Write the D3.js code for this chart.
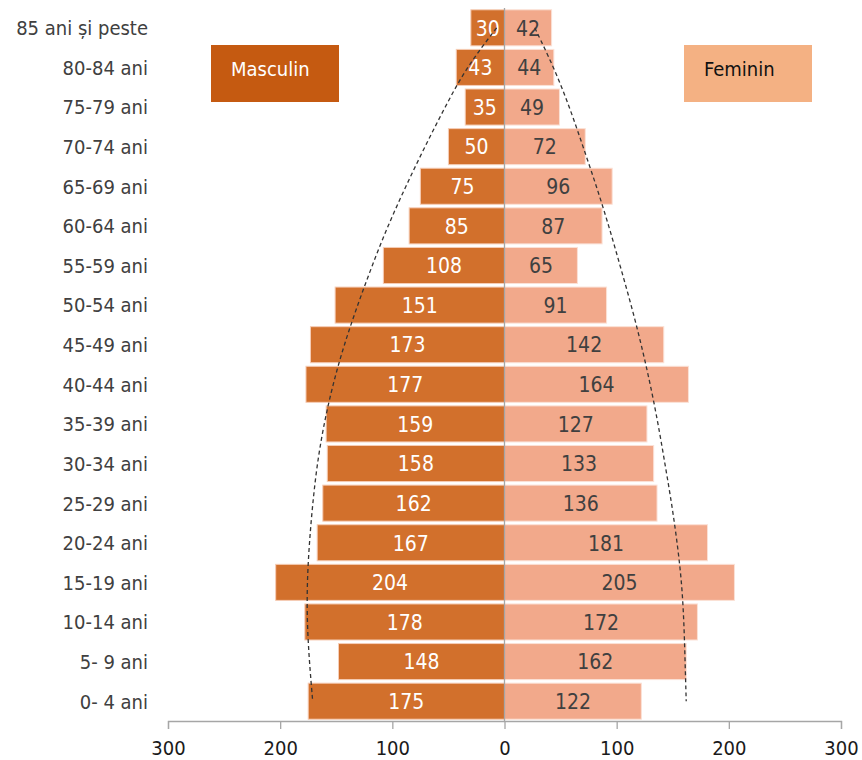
<!DOCTYPE html>
<html>
<head>
<meta charset="utf-8">
<script src="https://cdn.jsdelivr.net/npm/d3@7/dist/d3.min.js"></script>
<style>
  body { margin: 0; background: #fff; }
  text { font-family: "DejaVu Sans Condensed", "DejaVu Sans", sans-serif; font-stretch: condensed; }
</style>
</head>
<body>
<div id="chart"></div>
<script>
// Age groups, top to bottom
var ageGroups = ["85 ani și peste", "80-84 ani", "75-79 ani", "70-74 ani", "65-69 ani",
  "60-64 ani", "55-59 ani", "50-54 ani", "45-49 ani", "40-44 ani", "35-39 ani",
  "30-34 ani", "25-29 ani", "20-24 ani", "15-19 ani", "10-14 ani", "5- 9 ani", "0- 4 ani"];

var male   = [30, 43, 35, 50, 75, 85, 108, 151, 173, 177, 159, 158, 162, 167, 204, 178, 148, 175];
var female = [42, 44, 49, 72, 96, 87, 65, 91, 142, 164, 127, 133, 136, 181, 205, 172, 162, 122];

// dashed trend lines
var maleTrend   = [7, 34, 53, 71, 88, 104, 118, 131, 143, 153, 161, 167, 171, 174, 176, 176, 174, 171];
var femaleTrend = [27, 44, 58, 70, 82, 93, 103, 113, 122, 130, 137, 143, 149, 154, 158, 160, 161, 162];

var ticks = [-300, -200, -100, 0, 100, 200, 300];
var legendLabels = ["Masculin", "Feminin"];

var width = 862, height = 760;
var maleColor = "#d2702c", femaleColor = "#f2a98b";

var svg = d3.select("#chart").append("svg")
    .attr("width", width)
    .attr("height", height);

var x = d3.scaleLinear().domain([-300, 300]).range([168, 841]);
var y = d3.scaleBand().domain(ageGroups).range([8, 721]).paddingInner(0.09).paddingOuter(0.045);

// bars
svg.selectAll("rect.male")
    .data(male)
    .enter().append("rect")
    .attr("class", "male")
    .attr("x", function(d) { return x(-d); })
    .attr("y", function(d, i) { return y(ageGroups[i]); })
    .attr("width", function(d) { return x(0) - x(-d); })
    .attr("height", y.bandwidth())
    .style("fill", maleColor)
    .style("stroke", "#f6cdb6")
    .style("stroke-width", 1);

svg.selectAll("rect.female")
    .data(female)
    .enter().append("rect")
    .attr("class", "female")
    .attr("x", x(0))
    .attr("y", function(d, i) { return y(ageGroups[i]); })
    .attr("width", function(d) { return x(d) - x(0); })
    .attr("height", y.bandwidth())
    .style("fill", femaleColor)
    .style("stroke", "#fbe1d6")
    .style("stroke-width", 1);

// value labels
svg.selectAll("text.mval")
    .data(male)
    .enter().append("text")
    .attr("class", "mval")
    .attr("x", function(d) { return (x(-d) + x(0)) / 2; })
    .attr("y", function(d, i) { return y(ageGroups[i]) + y.bandwidth() / 2; })
    .attr("dy", "0.37em")
    .attr("text-anchor", "middle")
    .style("font-size", "21px")
    .style("fill", "#fff")
    .text(function(d) { return d; });

svg.selectAll("text.fval")
    .data(female)
    .enter().append("text")
    .attr("class", "fval")
    .attr("x", function(d) { return (x(d) + x(0)) / 2; })
    .attr("y", function(d, i) { return y(ageGroups[i]) + y.bandwidth() / 2; })
    .attr("dy", "0.37em")
    .attr("text-anchor", "middle")
    .style("font-size", "21px")
    .style("fill", "#404040")
    .text(function(d) { return d; });

// centre line
svg.append("line")
    .attr("x1", x(0)).attr("x2", x(0))
    .attr("y1", 8).attr("y2", 721)
    .style("stroke", "#a6a6a6")
    .style("stroke-width", 1.3);

// category labels
svg.selectAll("text.cat")
    .data(ageGroups)
    .enter().append("text")
    .attr("class", "cat")
    .attr("x", 148)
    .attr("y", function(d) { return y(d) + y.bandwidth() / 2; })
    .attr("dy", "0.37em")
    .attr("text-anchor", "end")
    .style("font-size", "20px")
    .style("fill", "#404040")
    .text(function(d) { return d; });

// x axis
var xAxis = d3.axisBottom(x)
    .tickValues(ticks)
    .tickSize(8)
    .tickFormat(function(d) { return Math.abs(d); });

var gx = svg.append("g")
    .attr("transform", "translate(0,721)")
    .call(xAxis);
gx.select(".domain").style("stroke", "#a6a6a6").style("stroke-width", 1.3);
gx.selectAll(".tick line").style("stroke", "#a6a6a6").style("stroke-width", 1.3);
gx.selectAll(".tick text")
    .attr("y", 20)
    .style("font-size", "20px")
    .style("fill", "#1a1a1a");

// trend lines
var trendMale = d3.line()
    .x(function(d) { return x(-d); })
    .y(function(d, i) { return y(ageGroups[i]) + y.bandwidth() / 2; })
    .curve(d3.curveBasis);
var trendFemale = d3.line()
    .x(function(d) { return x(d); })
    .y(function(d, i) { return y(ageGroups[i]) + y.bandwidth() / 2; })
    .curve(d3.curveBasis);

svg.append("path")
    .datum(maleTrend)
    .attr("d", trendMale)
    .style("fill", "none")
    .style("stroke", "#333")
    .style("stroke-width", 1.3)
    .style("stroke-dasharray", "4,3");

svg.append("path")
    .datum(femaleTrend)
    .attr("d", trendFemale)
    .style("fill", "none")
    .style("stroke", "#333")
    .style("stroke-width", 1.3)
    .style("stroke-dasharray", "4,3");

// legend boxes
var legend = [
  {label: legendLabels[0], x: 211, fill: "#c55a11", color: "#fff"},
  {label: legendLabels[1], x: 684, fill: "#f4b183", color: "#111"}
];
var lg = svg.selectAll("g.legend")
    .data(legend)
    .enter().append("g")
    .attr("class", "legend")
    .attr("transform", function(d) { return "translate(" + d.x + ",45)"; });
lg.append("rect")
    .attr("width", 128)
    .attr("height", 57)
    .style("fill", function(d) { return d.fill; });
lg.append("text")
    .attr("x", 20)
    .attr("y", 31)
    .style("font-size", "20px")
    .style("fill", function(d) { return d.color; })
    .text(function(d) { return d.label; });
</script>
</body>
</html>
